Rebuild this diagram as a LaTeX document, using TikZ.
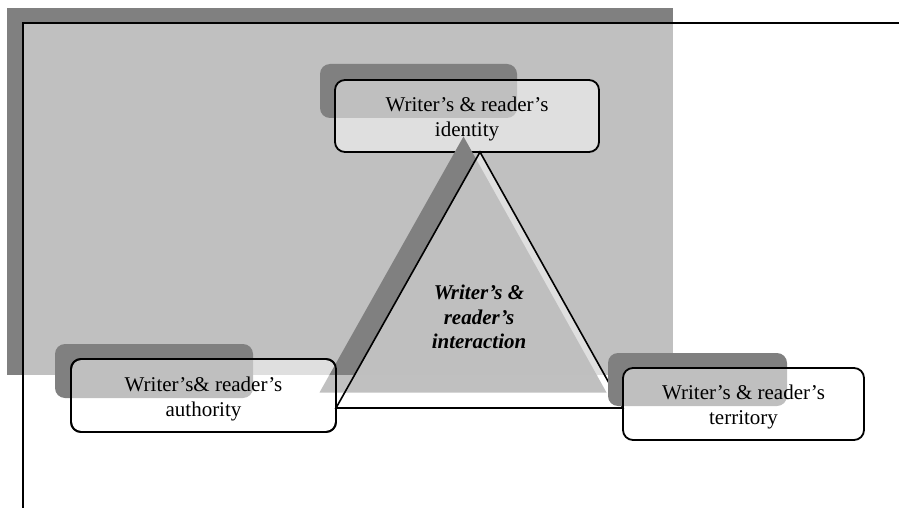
\documentclass[tikz,border=0pt]{standalone}
\usepackage{fontspec}
\setmainfont{Liberation Serif}
\definecolor{darkg}{HTML}{808080}
\definecolor{lightg}{HTML}{C0C0C0}
\tikzset{
  boxshadow/.style={fill=darkg, rounded corners=10pt},
  rbox/.style={draw=black, line width=1.8pt, rounded corners=10pt, fill=white, fill opacity=0.5, text opacity=1,
    align=center, inner sep=0pt, outer sep=0pt, font=\fontsize{21}{25}\selectfont},
  centertext/.style={align=center, inner sep=0pt, font=\fontsize{21}{24.5}\selectfont\bfseries\itshape},
  frame/.style={line width=2pt, black},
  triline/.style={line width=1.6pt, black, line join=miter}
}
\newcommand{\boxstrut}{\rule{0pt}{21pt}}
\begin{document}
\begin{tikzpicture}[x=1pt, y=-1pt]
\useasboundingbox (0,0) rectangle (899,508);
% background panel with its shadow
\fill[darkg] (7,8) rectangle (673,375);
\fill[lightg] (22,23) rectangle (673,375);
\coordinate (f1) at (22.5,23.5);
\coordinate (f2) at (899,23.5);
\coordinate (f3) at (22.5,508);
\draw[frame] (f2) -- (f1) -- (f3);
% box shadows
\fill[boxshadow] (320,64) rectangle (517,118);
\fill[boxshadow] (55,344) rectangle (253,398);
% identity and authority boxes
\node[rbox, minimum width=264pt, minimum height=72pt] (identity) at (467,116) {\boxstrut Writer’s \& reader’s\\identity};
\node[rbox, minimum width=265pt, minimum height=73pt] (authority) at (203.5,395.5) {\boxstrut Writer’s\& reader’s\\authority};
% triangle
\coordinate (A) at (480,152);
\coordinate (B) at (authority.east |- 0,408);
\coordinate (C) at (623,408);
\coordinate (sA) at (463.5,136.5);
\coordinate (sB) at (319.5,392.5);
\coordinate (sC) at (606.5,392.5);
\begin{scope}
  \clip (0,0) rectangle (899,375);
  \fill[darkg] (sA) -- (sB) -- (sC) -- cycle;
  \fill[white, fill opacity=0.5] (A) -- (B) -- (C) -- cycle;
\end{scope}
\begin{scope}
  \clip (0,375) rectangle (899,508);
  \fill[lightg] (sA) -- (sB) -- (sC) -- cycle;
\end{scope}
\draw[triline] (A) -- (B) -- (C) -- cycle;
\draw[line width=1.8pt, rounded corners=10pt] (authority.south west) rectangle (authority.north east);
\node[centertext] (interaction) at (479,317) {Writer’s \&\\reader’s\\interaction};
% territory
\fill[boxshadow] (608,353) rectangle (787,406);
\node[rbox, minimum width=241pt, minimum height=72pt] (territory) at (743.5,404) {\boxstrut Writer’s \& reader’s\\territory};
\end{tikzpicture}
\end{document}
